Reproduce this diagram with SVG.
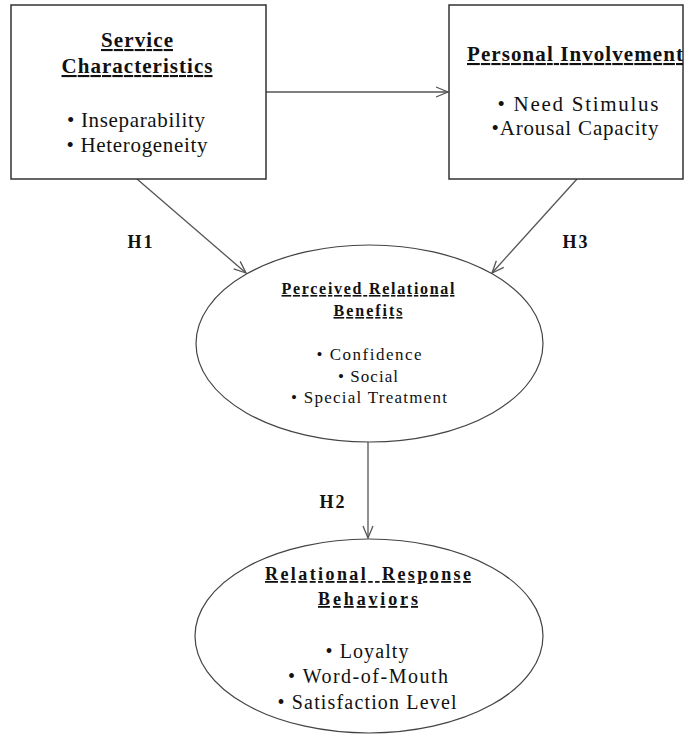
<svg xmlns="http://www.w3.org/2000/svg" width="693" height="735" viewBox="0 0 693 735">
<defs>
<style>
text{fill:#111;text-anchor:middle}
.t{font-weight:bold;text-decoration:underline}
.h{font-weight:bold;font-size:18px}
.box{fill:#fff;stroke:#333;stroke-width:1.5}
.ell{fill:#fff;stroke:#444;stroke-width:1.2}
.edge{stroke:#555;stroke-width:1.3;fill:none;marker-end:url(#arr)}
</style>
<marker id="arr" viewBox="0 0 14 12" refX="13" refY="6" markerWidth="14" markerHeight="12" markerUnits="userSpaceOnUse" orient="auto">
<path d="M1,1 L13,6 L1,11" fill="none" stroke="#555" stroke-width="1.3"/>
</marker>
</defs>
<rect width="693" height="735" fill="#fff"/>
<g font-family="Liberation Serif, Times New Roman, Times, serif">
<g id="connectors">
<line class="edge" x1="266" y1="92" x2="448" y2="92"/>
<line class="edge" x1="137" y1="179" x2="246" y2="273"/>
<line class="edge" x1="577" y1="179" x2="492" y2="273"/>
<line class="edge" x1="368" y1="442" x2="368" y2="538"/>
<text class="h" x="140" y="248" textLength="25">H1</text>
<text class="h" x="575" y="248" textLength="25">H3</text>
<text class="h" x="332" y="508" textLength="25">H2</text>
</g>
<g id="service">
<rect class="box" x="11" y="5" width="255" height="174"/>
<text class="t" x="137" y="47" font-size="21" textLength="72">Service</text>
<text class="t" x="137" y="73" font-size="21" textLength="151">Characteristics</text>
<text x="136" y="127" font-size="21" textLength="138">• Inseparability</text>
<text x="137" y="152" font-size="21" textLength="141">• Heterogeneity</text>
</g>
<g id="involvement">
<rect class="box" x="449" y="5" width="234" height="174"/>
<text class="t" x="575" y="61" font-size="21" textLength="216">Personal Involvement</text>
<text x="578" y="111" font-size="21" textLength="161">• Need Stimulus</text>
<text x="575" y="135" font-size="21" textLength="167">•Arousal Capacity</text>
</g>
<g id="benefits">
<ellipse class="ell" cx="369.5" cy="343.5" rx="173.5" ry="98.5"/>
<text class="t" x="368" y="294" font-size="16" textLength="173">Perceived Relational</text>
<text class="t" x="368" y="316" font-size="16" textLength="69">Benefits</text>
<text x="369" y="360" font-size="17" textLength="105">• Confidence</text>
<text x="368" y="382" font-size="17" textLength="60">• Social</text>
<text x="369" y="403" font-size="17" textLength="156">• Special Treatment</text>
</g>
<g id="behaviors">
<ellipse class="ell" cx="369" cy="636" rx="174" ry="97"/>
<text class="t" x="368" y="580" font-size="18" textLength="206" xml:space="preserve">Relational  Response</text>
<text class="t" x="368" y="605" font-size="18" textLength="100">Behaviors</text>
<text x="367" y="658" font-size="20" textLength="83">• Loyalty</text>
<text x="368" y="683" font-size="20" textLength="160">• Word-of-Mouth</text>
<text x="367" y="709" font-size="20" textLength="179">• Satisfaction Level</text>
</g>
</g>
</svg>
